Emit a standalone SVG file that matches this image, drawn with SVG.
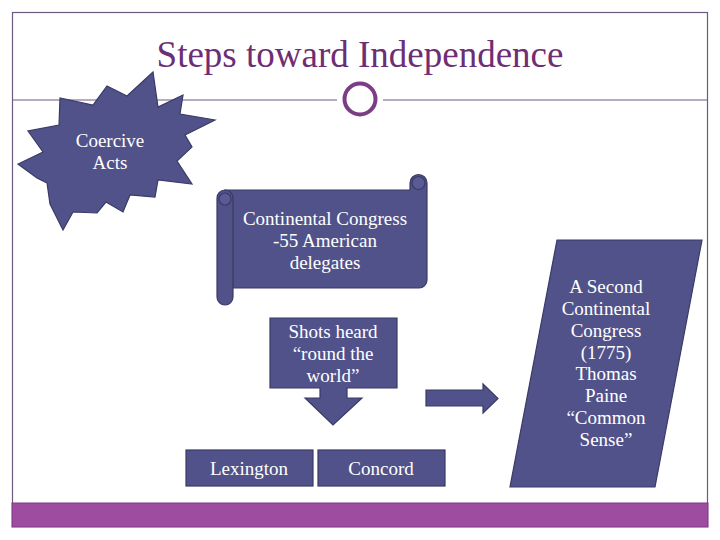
<svg xmlns="http://www.w3.org/2000/svg" width="720" height="540" viewBox="0 0 720 540">
<style>
.node{fill:#51528a;stroke:#3a3a66;stroke-width:1.2}
.lbl{font-family:"Liberation Serif","Times New Roman",serif;font-size:19px;fill:#ffffff;text-anchor:middle}
.frame{fill:none;stroke:#6e5a7e;stroke-width:1.2}
.curl{fill:#5a5b94;stroke:#3a3a66;stroke-width:1.2}
</style>
<rect width="720" height="540" fill="#ffffff"/>
<g id="frame">
<rect class="frame" x="12.5" y="12.5" width="695" height="514"/>
<line class="frame" x1="12.5" y1="100" x2="337" y2="100"/>
<line class="frame" x1="383" y1="100" x2="707.5" y2="100"/>
<circle cx="360" cy="99" r="15.5" fill="#ffffff" stroke="#7b3d86" stroke-width="4"/>
<rect x="12" y="503" width="696" height="24" fill="#9d4ca0" stroke="#7d3a82" stroke-width="1"/>
</g>
<g id="title">
<text x="360" y="67" font-family="'Liberation Serif','Times New Roman',serif" font-size="37" fill="#6e2d74" text-anchor="middle">Steps toward Independence</text>
</g>
<g id="coercive">
<polygon class="node" points="153,72 158,107 183,95 180,114 215,120 185,135 192,147 177,161 192,184 158,180 155,197 130,195 123,212 106,202 97,213 73,212 63,230 50,204 47,183 37,178 18,164 43,152 28,131 59,125 60,98 93,105 107,86 127,96"/>
<text class="lbl" x="110" y="147">Coercive</text>
<text class="lbl" x="110" y="169">Acts</text>
</g>
<g id="congress">
<path class="node" d="M225,190 H410 V183 A8.5,8.5 0 0 1 427,183 V280 A8,8 0 0 1 419,288 H233 Z"/>
<rect class="node" x="217" y="190" width="16" height="115" rx="8" ry="8"/>
<circle class="curl" cx="225" cy="199" r="6"/>
<circle class="curl" cx="418.5" cy="183" r="6.5"/>
<text class="lbl" x="325" y="225">Continental Congress</text>
<text class="lbl" x="325" y="247">-55 American</text>
<text class="lbl" x="325" y="269">delegates</text>
</g>
<g id="shots">
<path class="node" d="M270,318 H397 V388 H347 V398 H362 L333,425 L305,398 H320 V388 H270 Z"/>
<text class="lbl" x="333" y="338">Shots heard</text>
<text class="lbl" x="333" y="360">“round the</text>
<text class="lbl" x="333" y="382">world”</text>
</g>
<g id="lexington">
<rect class="node" x="186" y="450" width="127" height="36"/>
<text class="lbl" x="249" y="475">Lexington</text>
</g>
<g id="concord">
<rect class="node" x="318" y="450" width="127" height="36"/>
<text class="lbl" x="381" y="475">Concord</text>
</g>
<g id="second">
<polygon class="node" points="557,240 702,240 655,487 510,487"/>
<text class="lbl" x="606" y="293">A Second</text>
<text class="lbl" x="606" y="315">Continental</text>
<text class="lbl" x="606" y="337">Congress</text>
<text class="lbl" x="606" y="359">(1775)</text>
<text class="lbl" x="606" y="380">Thomas</text>
<text class="lbl" x="606" y="402">Paine</text>
<text class="lbl" x="606" y="424">“Common</text>
<text class="lbl" x="606" y="446">Sense”</text>
</g>
<g id="connectors">
<path class="node" d="M426,390 H483 V384 L498,398.5 L483,413 V406 H426 Z"/>
</g>
</svg>
